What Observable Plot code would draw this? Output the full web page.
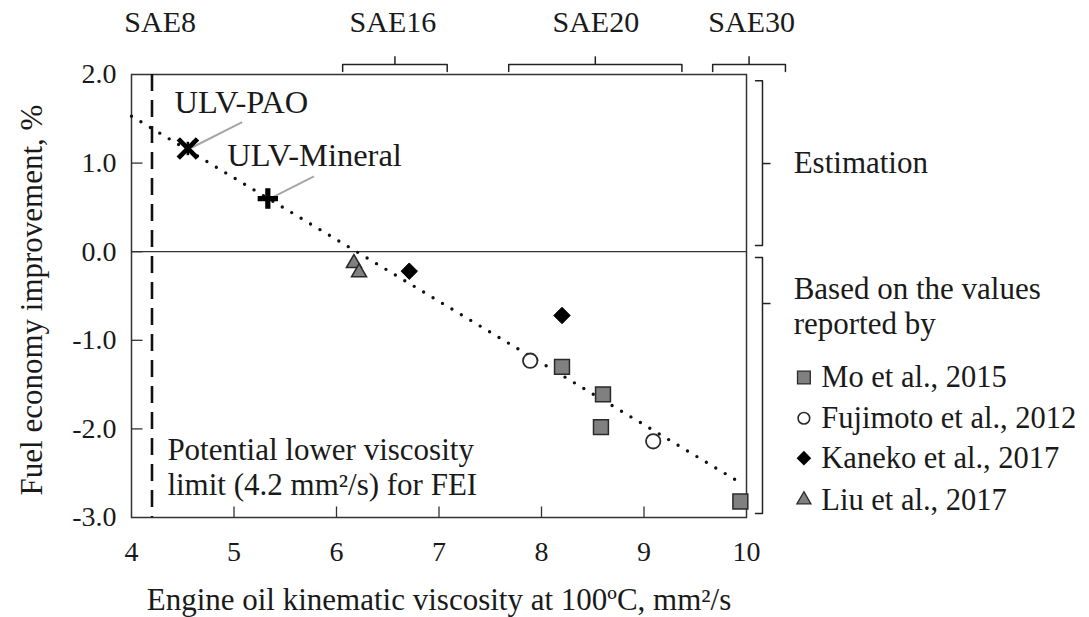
<!DOCTYPE html>
<html><head><meta charset="utf-8">
<script src="https://cdn.jsdelivr.net/npm/d3@7"></script>
<script src="https://cdn.jsdelivr.net/npm/@observablehq/plot@0.6"></script>
<style>html,body{margin:0;padding:0;background:#fff}</style>
</head><body><div id="chart"></div>
<script>
// ---- axis ticks ----
const xTicks = [4, 5, 6, 7, 8, 9, 10];
const yTicks = [-3, -2, -1, 0, 1, 2];
const xInnerTicks = [5, 6, 7, 8, 9];
const yInnerTicks = [-2, -1, 0, 1];

// ---- data series ----
const moX = [8.2, 8.6, 8.58, 9.94];
const moY = [-1.30, -1.61, -1.98, -2.82];
const fujiX = [7.89, 9.09];
const fujiY = [-1.23, -2.14];
const kanekoX = [6.71, 8.2];
const kanekoY = [-0.22, -0.72];
const liuX = [6.17, 6.22];
const liuY = [-0.13, -0.235];
const ulvNames = ["ULV-PAO", "ULV-Mineral"];
const ulvX = [4.55, 5.33];
const ulvY = [1.165, 0.60];

// trend line end points
const trendX = [4.0, 9.9];
const trendY = [1.53, -2.58];

// viscosity limit
const limitX = 4.2;

// SAE grades
const saeNames = ["SAE8", "SAE16", "SAE20", "SAE30"];
const saeLabelX = [4.28, 6.55, 8.53, 10.05];
const bracketNames = ["SAE16", "SAE20", "SAE30"];
const bracketLo = [6.06, 7.68, 9.67];
const bracketHi = [7.08, 9.37, 10.38];

// right-side groups
const groupNames = ["Estimation", "Based on the values\nreported by"];
const groupTop = [1.93, -0.065];
const groupBottom = [0.07, -2.955];
const groupMid = [0.995, -0.585];

// legend
const legendNames = ["Mo et al., 2015", "Fujimoto et al., 2012", "Kaneko et al., 2017", "Liu et al., 2017"];
const legendY = [-1.42, -1.88, -2.33, -2.80];

// annotation labels
const noteText = "Potential lower viscosity\nlimit (4.2 mm\u00b2/s) for FEI";

// ---- build tables ----
const pts = (X, Y) => X.map((x, i) => ({x, y: Y[i]}));
const mo = pts(moX, moY), fuji = pts(fujiX, fujiY), kaneko = pts(kanekoX, kanekoY), liu = pts(liuX, liuY);
const ulv = ulvNames.map((n, i) => ({name: n, x: ulvX[i], y: ulvY[i]}));
const trend = pts(trendX, trendY);

// layout constants (annotation placement in data units)
const saeLabelY = 2.585, brH = 2.113, brTip = 2.205, brEnd = 2.034;
const rbX = 10.156, rbHook = 10.088, rbTip = 10.234;
const textX = 10.46, legMarkX = 10.56, legTextX = 10.73;

const topBrackets = bracketNames.flatMap((n, i) => [
  {id: n, x: bracketLo[i], y: brEnd}, {id: n, x: bracketLo[i], y: brH},
  {id: n, x: bracketHi[i], y: brH}, {id: n, x: bracketHi[i], y: brEnd}
]);
const topMid = bracketNames.map((n, i) => ({x: (bracketLo[i] + bracketHi[i]) / 2}));
const rightBrackets = groupNames.flatMap((n, i) => [
  {id: i, x: rbHook, y: groupTop[i]}, {id: i, x: rbX, y: groupTop[i]},
  {id: i, x: rbX, y: groupBottom[i]}, {id: i, x: rbHook, y: groupBottom[i]}
]);
const rightMid = groupMid.map(y => ({y}));

const leaders = [
  {x1: 5.08, y1: 1.462, x2: 4.59, y2: 1.176},
  {x1: 5.78, y1: 0.849, x2: 5.36, y2: 0.604}
];
const ulvLabels = [
  {name: "ULV-PAO", x: 4.42, y: 1.684},
  {name: "ULV-Mineral", x: 4.935, y: 1.086}
];

// custom tick symbols
const tickRight = {draw(c) { c.moveTo(0, 0); c.lineTo(11, 0); }};
const tickUp = {draw(c) { c.moveTo(0, 0); c.lineTo(0, -11); }};
const vbar = {draw(c, s) { const h = Math.sqrt(s) * 0.42; c.moveTo(0, -h); c.lineTo(0, h); }};

const gray = "#808080", dark = "#2a2a2a", txt = "#1a1a1a";
const legend = legendNames.map((n, i) => ({name: n, y: legendY[i], k: i}));

const chart = Plot.plot({
  width: 1089, height: 617,
  marginLeft: 131, marginRight: 343, marginTop: 74, marginBottom: 100,
  x: {domain: [4, 10]},
  y: {domain: [-3, 2]},
  style: {fontFamily: "'Liberation Serif', 'Times New Roman', serif", fontSize: "28px", color: txt, background: "#fff", overflow: "visible"},
  marks: [
    Plot.axisY({ticks: yTicks, tickSize: 0, tickPadding: 15, tickFormat: d => d.toFixed(1), label: null, fontSize: 28}),
    Plot.axisX({ticks: xTicks, tickSize: 0, tickPadding: 24, tickFormat: d => String(d), label: null, fontSize: 28}),
    Plot.text(["Fuel economy improvement, %"], {text: d => d, frameAnchor: "left", textAnchor: "middle", lineAnchor: "middle", rotate: -90, dx: -99, dy: 4, fontSize: 31}),
    Plot.text(["Engine oil kinematic viscosity at 100\u00baC, mm\u00b2/s"], {text: d => d, frameAnchor: "bottom", textAnchor: "middle", lineAnchor: "middle", dy: 83, fontSize: 31}),
    Plot.frame({stroke: "#333", strokeWidth: 1.5}),
    Plot.ruleY([0], {stroke: "#333", strokeWidth: 1.3}),
    Plot.dot(yInnerTicks, {y: d => d, frameAnchor: "left", symbol: tickRight, fill: "none", stroke: "#333", strokeWidth: 1.3}),
    Plot.dot(xInnerTicks, {x: d => d, frameAnchor: "bottom", symbol: tickUp, fill: "none", stroke: "#333", strokeWidth: 1.3}),
    Plot.ruleX([limitX], {stroke: "#111", strokeWidth: 2.6, strokeDasharray: "17,9"}),
    Plot.line(trend, {x: "x", y: "y", stroke: "#111", strokeWidth: 3.4, strokeDasharray: "0,11", strokeLinecap: "round"}),
    // leaders and labels
    Plot.link(leaders, {x1: "x1", y1: "y1", x2: "x2", y2: "y2", stroke: "#a6a6a6", strokeWidth: 2}),
    Plot.text(ulvLabels, {x: "x", y: "y", text: "name", textAnchor: "start", fontSize: 32.5}),
    Plot.text([noteText], {text: d => d, x: 4.35, y: -2.42, textAnchor: "start", lineHeight: 1.15, fontSize: 31}),
    // markers
    Plot.dot(mo, {x: "x", y: "y", symbol: "square", r: 8.4, fill: gray, stroke: dark, strokeWidth: 1.5}),
    Plot.dot(fuji, {x: "x", y: "y", symbol: "circle", r: 7.2, fill: "#fff", stroke: dark, strokeWidth: 1.8}),
    Plot.dot(kaneko, {x: "x", y: "y", symbol: "diamond2", r: 7.4, fill: "#000", stroke: "#000", strokeWidth: 1}),
    Plot.dot(liu, {x: "x", y: "y", symbol: "triangle", r: 5.6, fill: gray, stroke: dark, strokeWidth: 1.5}),
    Plot.dot(ulv.slice(0, 1), {x: "x", y: "y", symbol: "times", r: 8.8, stroke: "#000", strokeWidth: 4.8}),
    Plot.dot(ulv.slice(0, 1), {x: "x", y: "y", symbol: vbar, r: 9, fill: "none", stroke: "#000", strokeWidth: 2.5}),
    Plot.dot(ulv.slice(1), {x: "x", y: "y", symbol: "plus", r: 6.6, stroke: "#000", strokeWidth: 5.2}),
    // SAE labels and brackets
    Plot.text(saeNames, {text: d => d, x: (d, i) => saeLabelX[i], y: saeLabelY, fontSize: 30}),
    Plot.line(topBrackets, {x: "x", y: "y", z: "id", stroke: "#222", strokeWidth: 1.5}),
    Plot.link(topMid, {x1: "x", x2: "x", y1: brH, y2: brTip, stroke: "#222", strokeWidth: 1.5}),
    // right brackets
    Plot.line(rightBrackets, {x: "x", y: "y", z: "id", stroke: "#222", strokeWidth: 1.5}),
    Plot.link(rightMid, {x1: rbX, x2: rbTip, y1: "y", y2: "y", stroke: "#222", strokeWidth: 1.5}),
    Plot.text([groupNames[0]], {text: d => d, x: textX, y: 0.995, textAnchor: "start", fontSize: 31}),
    Plot.text([groupNames[1]], {text: d => d, x: textX, y: -0.60, textAnchor: "start", lineHeight: 1.13, fontSize: 31}),
    // legend
    Plot.dot(legend.filter(d => d.k === 0), {x: legMarkX, y: "y", symbol: "square", r: 7.2, fill: gray, stroke: dark, strokeWidth: 1.3}),
    Plot.dot(legend.filter(d => d.k === 1), {x: legMarkX, y: "y", symbol: "circle", r: 5.8, fill: "#fff", stroke: dark, strokeWidth: 1.6}),
    Plot.dot(legend.filter(d => d.k === 2), {x: legMarkX, y: "y", symbol: "diamond2", r: 6.6, fill: "#000"}),
    Plot.dot(legend.filter(d => d.k === 3), {x: legMarkX, y: "y", symbol: "triangle", r: 5.2, fill: gray, stroke: dark, strokeWidth: 1.3}),
    Plot.text(legend, {x: legTextX, y: "y", text: "name", textAnchor: "start", fontSize: 30.5})
  ]
});
document.getElementById("chart").appendChild(chart);
</script></body></html>
